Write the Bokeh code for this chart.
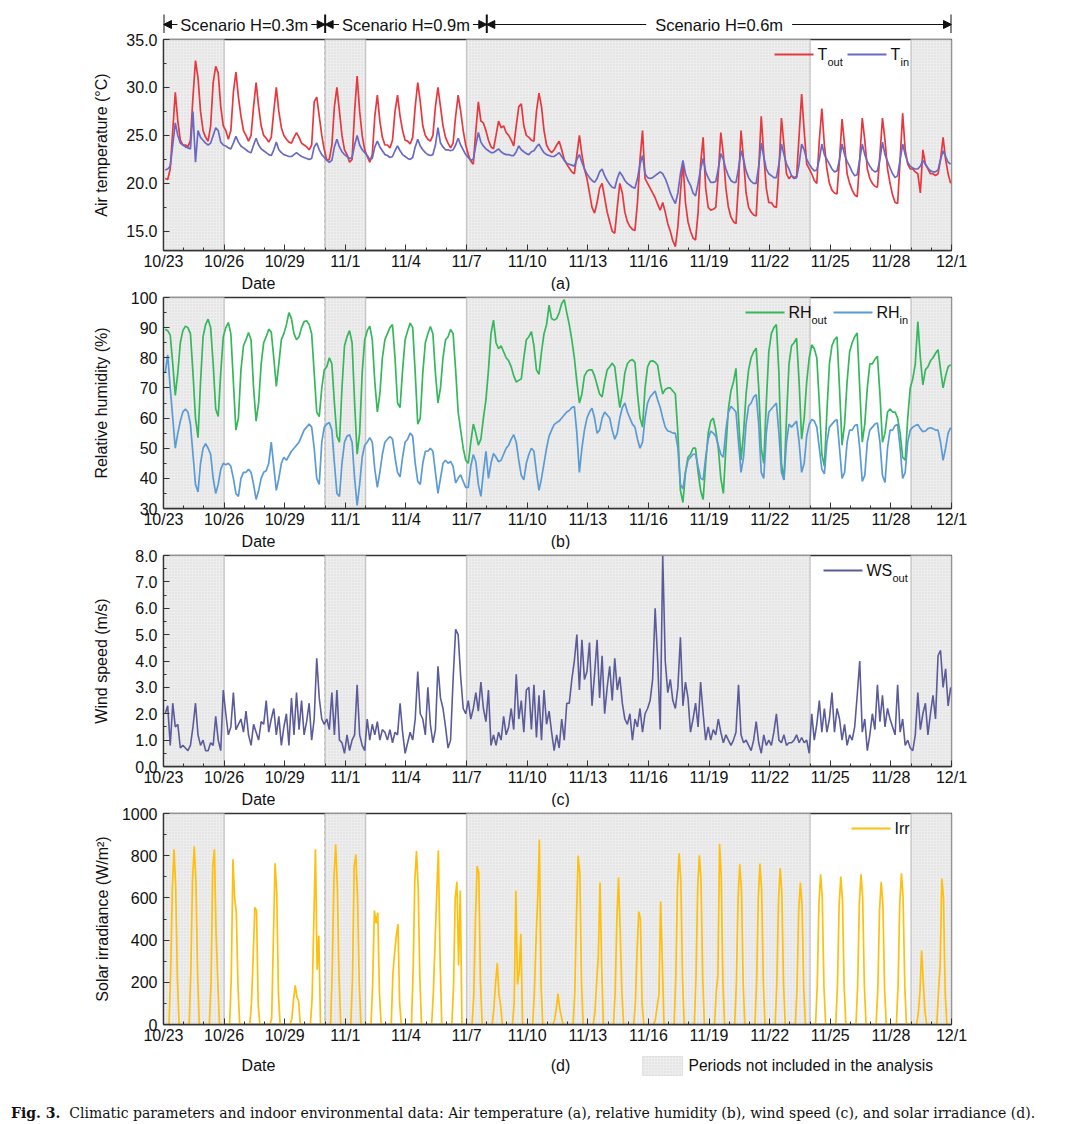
from bokeh.plotting import figure
from bokeh.layouts import column
from bokeh.models import (Range1d, FixedTicker, NumeralTickFormatter, Span, Label,
                          Arrow, NormalHead, BoxAnnotation, Div)
from bokeh.embed import file_html
from bokeh.resources import INLINE

# ---------------- data ----------------
HOURS = [2, 5, 8, 11, 14, 17, 20, 23]          # sample hours for T, RH, WS
IRR_HOURS = [6.5, 8.5, 10.5, 12.5, 14.5, 16.5, 18.5]  # sample hours for irradiance

TICK_LABELS = ["10/23", "10/26", "10/29", "11/1", "11/4", "11/7", "11/10",
               "11/13", "11/16", "11/19", "11/22", "11/25", "11/28", "12/1"]

EXCL_START = ["10/23", "10/31", "11/7", "11/29"]
EXCL_END = ["10/26", "11/2", "11/24", "12/1"]

SCEN_LABELS = ["Scenario H=0.3m", "Scenario H=0.9m", "Scenario H=0.6m"]
SCEN_START = ["10/23", "10/31", "11/8"]
SCEN_END = ["10/31", "11/8", "12/1"]

T_OUT = [
    [20.5, 20.4, 21.5, 25.5, 29.5, 26.5, 24.5, 24.0],
    [24.0, 23.8, 24.5, 29.0, 32.8, 31.0, 27.5, 25.5],
    [24.8, 24.4, 26.0, 30.5, 32.2, 31.5, 28.0, 26.0],
    [25.5, 24.6, 25.5, 29.5, 31.6, 29.0, 27.0, 25.5],
    [25.0, 24.4, 25.0, 28.0, 30.5, 28.0, 26.0, 25.0],
    [24.7, 24.3, 24.8, 27.5, 30.0, 27.5, 25.8, 25.0],
    [24.6, 24.3, 24.2, 24.8, 25.3, 24.8, 24.2, 24.0],
    [23.8, 23.5, 24.0, 28.5, 29.0, 27.0, 25.0, 23.5],
    [22.4, 22.5, 24.0, 28.0, 30.0, 27.5, 25.0, 23.5],
    [23.0, 22.2, 22.5, 27.5, 31.2, 27.5, 25.0, 23.5],
    [22.8, 22.2, 23.0, 27.0, 29.2, 26.5, 24.8, 24.0],
    [24.0, 23.7, 24.5, 27.5, 29.2, 27.0, 25.5, 24.5],
    [24.4, 24.1, 24.8, 28.0, 30.5, 28.5, 26.0, 25.0],
    [24.6, 24.4, 25.0, 28.0, 30.0, 28.0, 26.0, 24.8],
    [24.2, 23.7, 24.2, 27.0, 29.2, 27.5, 25.5, 24.0],
    [23.0, 22.3, 22.0, 25.5, 28.5, 26.5, 26.3, 25.5],
    [24.5, 23.8, 23.6, 25.0, 26.5, 25.8, 26.0, 25.3],
    [25.0, 24.5, 23.9, 26.0, 28.0, 28.3, 26.0, 25.0],
    [24.8, 24.5, 24.4, 27.5, 29.4, 28.0, 25.5, 24.0],
    [23.5, 23.2, 23.5, 24.0, 24.4, 23.5, 22.5, 22.0],
    [21.6, 21.2, 21.0, 23.0, 25.0, 23.0, 21.5, 20.5],
    [19.0, 17.5, 16.9, 18.0, 19.5, 20.0, 18.5, 17.0],
    [16.0, 15.0, 14.8, 17.5, 20.0, 19.0, 17.0, 16.0],
    [15.5, 15.2, 15.1, 18.0, 22.5, 25.5, 20.5, 20.0],
    [19.5, 19.0, 18.5, 17.8, 17.2, 18.0, 17.0, 15.8],
    [15.0, 14.0, 13.4, 15.5, 19.0, 22.2, 18.0, 16.0],
    [15.0, 14.3, 14.1, 17.0, 22.0, 24.8, 19.5, 17.5],
    [17.2, 17.3, 17.5, 21.0, 25.3, 23.0, 19.5, 17.5],
    [16.5, 16.0, 15.8, 20.0, 25.5, 22.5, 19.0, 17.5],
    [17.0, 16.7, 16.6, 21.5, 27.0, 23.0, 19.5, 18.0],
    [18.0, 17.6, 17.5, 21.5, 26.8, 24.0, 21.0, 20.5],
    [20.8, 20.6, 20.7, 25.0, 29.3, 25.5, 22.0, 21.5],
    [21.0, 20.3, 20.0, 24.5, 27.8, 24.0, 21.5, 20.0],
    [19.3, 19.0, 18.9, 22.5, 26.7, 24.0, 21.0, 20.0],
    [19.3, 18.8, 18.6, 22.5, 26.8, 24.5, 21.5, 20.5],
    [20.0, 19.7, 19.6, 23.0, 26.8, 24.5, 21.5, 20.0],
    [18.8, 18.0, 17.9, 22.5, 27.3, 23.5, 22.0, 21.5],
    [21.5, 21.2, 21.0, 19.0, 23.5, 22.0, 21.5, 21.0],
    [21.0, 20.8, 21.0, 22.5, 24.8, 22.5, 21.0, 20.0],
]

T_IN = [
    [21.4, 21.5, 21.8, 24.0, 26.3, 25.0, 24.2, 24.0],
    [23.8, 23.7, 23.6, 27.5, 22.2, 25.5, 24.8, 24.5],
    [24.2, 24.0, 24.2, 25.0, 25.8, 25.5, 24.3, 24.0],
    [23.9, 23.7, 23.6, 24.2, 24.9, 24.3, 23.9, 23.7],
    [23.5, 23.3, 23.2, 24.0, 24.7, 24.0, 23.6, 23.4],
    [23.2, 23.0, 22.9, 23.5, 24.3, 23.5, 23.2, 23.0],
    [22.9, 22.8, 22.8, 23.0, 23.2, 23.0, 22.8, 22.7],
    [22.6, 22.5, 22.6, 23.8, 24.2, 23.5, 23.0, 22.7],
    [22.4, 22.2, 22.4, 23.8, 24.6, 23.8, 23.3, 23.0],
    [22.8, 22.6, 22.7, 24.0, 25.0, 24.0, 23.5, 23.2],
    [22.9, 22.5, 22.6, 23.8, 24.4, 23.8, 23.4, 23.0],
    [22.9, 22.7, 22.8, 23.4, 23.9, 23.4, 23.0, 22.8],
    [22.6, 22.5, 22.7, 23.8, 24.6, 23.9, 23.5, 23.2],
    [23.0, 22.9, 23.0, 24.0, 25.8, 24.2, 23.8, 23.5],
    [23.5, 23.4, 23.5, 24.0, 24.7, 24.0, 23.5, 23.0],
    [22.7, 22.4, 22.5, 24.0, 25.3, 24.3, 23.9, 23.6],
    [23.4, 23.2, 23.2, 23.4, 23.6, 23.3, 23.1, 23.0],
    [23.0, 22.9, 22.9, 23.3, 23.9, 23.5, 23.3, 23.1],
    [23.0, 23.3, 23.4, 23.8, 24.1, 23.6, 23.2, 23.0],
    [22.9, 22.8, 22.8, 23.0, 23.2, 22.8, 22.4, 22.1],
    [22.0, 21.9, 21.8, 22.5, 23.0, 22.2, 21.5, 21.0],
    [20.6, 20.3, 20.1, 20.5, 21.2, 21.5, 20.8, 20.3],
    [19.9, 19.6, 19.5, 20.5, 21.2, 20.8, 20.3, 20.0],
    [19.8, 19.6, 19.5, 20.5, 22.0, 22.9, 21.0, 20.6],
    [20.5, 20.6, 20.8, 21.0, 21.2, 21.0, 20.5, 19.8],
    [19.0, 18.4, 17.9, 19.0, 21.0, 22.4, 21.0, 20.3],
    [19.8, 19.0, 18.7, 20.0, 21.5, 22.6, 21.2, 20.6],
    [20.1, 20.1, 20.2, 21.5, 23.1, 22.5, 21.5, 20.8],
    [20.3, 20.1, 20.1, 21.5, 23.4, 22.5, 21.3, 20.6],
    [20.2, 20.0, 20.0, 21.8, 24.2, 22.8, 21.5, 21.0],
    [20.8, 20.6, 20.6, 22.0, 24.1, 23.0, 22.0, 21.5],
    [20.8, 20.5, 20.6, 22.0, 24.1, 23.5, 22.5, 22.0],
    [21.6, 21.3, 21.4, 22.5, 24.1, 23.0, 22.5, 22.0],
    [21.5, 21.2, 21.3, 22.5, 24.1, 23.0, 22.3, 21.8],
    [21.2, 20.8, 20.9, 22.5, 24.1, 23.0, 22.3, 21.8],
    [21.4, 21.2, 21.3, 22.5, 24.3, 23.0, 22.3, 21.6],
    [21.0, 20.6, 20.8, 22.5, 24.1, 23.0, 22.2, 21.8],
    [21.6, 21.5, 21.5, 21.8, 22.4, 22.0, 21.6, 21.3],
    [21.2, 21.2, 21.4, 22.5, 23.4, 22.8, 22.2, 22.0],
]

RH_OUT = [
    [89.5, 89.0, 87.5, 78.0, 67.5, 75.0, 85.0, 89.0],
    [90.5, 90.0, 88.0, 75.0, 60.0, 53.5, 72.0, 87.0],
    [91.0, 92.8, 90.0, 78.0, 63.0, 60.5, 75.0, 87.0],
    [90.0, 91.7, 88.0, 72.0, 56.0, 60.0, 76.0, 84.0],
    [86.0, 88.4, 86.0, 70.0, 59.0, 65.0, 78.0, 85.0],
    [87.0, 89.5, 88.5, 80.0, 70.5, 78.0, 86.0, 88.0],
    [91.0, 95.0, 93.0, 88.0, 86.0, 87.0, 90.0, 92.0],
    [92.3, 91.0, 88.0, 75.0, 62.0, 60.5, 70.0, 76.0],
    [77.0, 80.0, 78.0, 65.0, 54.0, 52.0, 70.0, 84.0],
    [87.0, 89.0, 85.0, 65.0, 48.0, 55.0, 75.0, 86.0],
    [89.0, 90.5, 86.0, 72.0, 62.0, 68.0, 80.0, 86.0],
    [88.0, 90.0, 91.0, 80.0, 65.0, 63.5, 76.0, 86.0],
    [89.0, 91.5, 90.0, 75.0, 58.0, 60.0, 75.0, 85.0],
    [88.0, 90.4, 88.0, 75.0, 65.0, 70.0, 80.0, 86.0],
    [87.0, 89.4, 88.0, 76.0, 62.0, 56.0, 50.0, 46.0],
    [45.0, 52.0, 58.0, 55.0, 51.0, 53.0, 60.0, 66.0],
    [76.0, 88.0, 92.5, 85.0, 83.0, 84.0, 82.0, 80.0],
    [79.0, 77.0, 74.0, 72.0, 72.5, 73.0, 80.0, 86.0],
    [87.0, 88.7, 84.0, 76.0, 74.5, 82.0, 88.0, 91.0],
    [97.5, 93.0, 92.5, 93.0, 95.0, 98.0, 99.3, 95.0],
    [91.0, 86.0, 80.0, 72.0, 65.0, 68.0, 74.0, 75.5],
    [76.0, 76.0, 74.0, 71.0, 68.0, 67.0, 72.0, 76.0],
    [77.0, 78.2, 77.0, 70.0, 63.5, 68.0, 75.0, 78.0],
    [79.0, 79.4, 78.5, 68.0, 60.0, 57.0, 70.0, 77.0],
    [78.8, 79.0, 78.5, 77.5, 72.0, 68.0, 69.5, 70.0],
    [70.0, 69.0, 68.0, 55.0, 36.0, 32.0, 42.0, 47.0],
    [48.0, 50.0, 50.0, 42.0, 36.0, 33.0, 45.0, 55.0],
    [59.0, 60.0, 56.0, 50.0, 40.0, 35.0, 50.0, 63.0],
    [69.0, 72.0, 76.5, 60.0, 46.0, 55.0, 68.0, 76.0],
    [80.0, 82.0, 83.2, 70.0, 50.0, 45.0, 65.0, 82.0],
    [88.0, 90.0, 91.0, 75.0, 45.0, 39.5, 60.0, 78.0],
    [84.0, 85.0, 86.5, 72.0, 53.0, 60.0, 72.0, 80.0],
    [84.3, 83.0, 80.0, 65.0, 48.0, 44.0, 62.0, 78.0],
    [84.0, 86.0, 87.0, 70.0, 51.0, 58.0, 72.0, 82.0],
    [85.0, 87.0, 88.2, 70.0, 52.0, 58.0, 70.0, 78.0],
    [78.0, 79.5, 80.5, 68.0, 52.0, 55.0, 62.0, 63.0],
    [62.0, 62.0, 60.0, 55.0, 47.0, 46.0, 60.0, 70.0],
    [73.0, 78.0, 92.0, 80.0, 71.0, 76.0, 77.0, 79.0],
    [80.0, 81.5, 82.7, 76.0, 70.0, 74.0, 77.0, 77.7],
]

RH_IN = [
    [75.0, 81.0, 70.0, 60.0, 50.0, 55.0, 59.0, 62.0],
    [63.0, 62.0, 58.0, 48.0, 38.0, 35.5, 45.0, 50.0],
    [51.5, 50.0, 48.0, 40.0, 35.0, 38.0, 43.0, 45.0],
    [44.5, 45.0, 44.0, 40.0, 35.0, 34.0, 40.0, 42.0],
    [42.0, 43.0, 42.0, 38.0, 33.0, 36.0, 40.0, 42.0],
    [42.5, 45.0, 52.0, 44.0, 36.0, 40.0, 45.0, 47.0],
    [46.0, 47.5, 49.0, 50.0, 51.0, 52.0, 54.0, 56.0],
    [57.0, 58.0, 57.0, 50.0, 40.0, 38.0, 52.0, 57.0],
    [58.0, 58.5, 56.0, 45.0, 35.0, 34.0, 45.0, 52.0],
    [54.0, 54.5, 52.0, 40.0, 31.0, 38.0, 47.0, 51.0],
    [52.0, 53.5, 52.0, 43.0, 37.0, 42.0, 48.0, 52.0],
    [53.0, 53.9, 53.0, 47.0, 42.0, 40.5, 47.0, 52.0],
    [53.0, 55.0, 54.0, 45.0, 39.0, 38.0, 45.0, 49.0],
    [49.0, 50.0, 49.0, 42.0, 35.0, 40.0, 45.0, 46.0],
    [45.0, 45.6, 44.0, 38.5, 40.0, 41.2, 39.0, 37.0],
    [37.0, 44.0, 47.9, 45.5, 38.0, 34.0, 42.0, 49.0],
    [40.0, 45.0, 48.3, 47.0, 45.5, 46.0, 48.0, 50.0],
    [51.0, 53.0, 54.5, 52.0, 46.0, 41.0, 39.5, 45.0],
    [48.0, 50.0, 49.0, 42.0, 36.0, 40.0, 45.0, 50.0],
    [54.0, 56.0, 57.8, 58.5, 59.0, 60.0, 61.0, 62.0],
    [62.5, 63.5, 63.8, 55.0, 42.0, 50.0, 56.0, 60.0],
    [62.0, 63.3, 60.0, 55.0, 56.0, 60.0, 62.0, 61.0],
    [60.0, 56.0, 53.0, 55.0, 60.0, 63.5, 65.0, 62.0],
    [60.0, 58.0, 57.0, 53.0, 50.0, 52.0, 60.0, 65.0],
    [67.0, 68.0, 69.0, 66.0, 63.5, 60.0, 57.0, 55.7],
    [55.5, 55.0, 55.0, 50.0, 38.0, 36.5, 42.0, 46.0],
    [47.0, 48.0, 48.0, 44.0, 40.0, 39.5, 47.0, 53.0],
    [55.7, 55.0, 54.0, 51.0, 48.0, 47.0, 56.0, 62.0],
    [63.9, 63.0, 62.0, 52.0, 42.0, 47.0, 58.0, 64.0],
    [65.0, 67.0, 67.8, 58.0, 42.0, 40.0, 55.0, 62.0],
    [63.0, 64.0, 65.0, 55.0, 42.0, 39.5, 52.0, 58.0],
    [57.0, 58.0, 59.0, 52.0, 42.0, 45.0, 54.0, 58.0],
    [59.5, 59.0, 57.0, 50.0, 43.0, 41.5, 52.0, 57.0],
    [58.0, 59.0, 59.5, 50.0, 40.0, 42.0, 52.0, 56.0],
    [56.0, 57.5, 57.9, 50.0, 39.0, 41.0, 52.0, 56.0],
    [57.0, 58.0, 58.4, 52.0, 41.0, 38.6, 50.0, 56.0],
    [56.0, 57.5, 57.9, 50.0, 40.0, 42.0, 52.0, 56.0],
    [57.0, 57.5, 57.9, 56.5, 55.5, 55.7, 56.5, 56.8],
    [56.5, 56.0, 56.0, 52.0, 46.0, 50.0, 55.0, 56.8],
]

WS_OUT = [
    [2.0, 2.3, 0.8, 2.4, 1.5, 1.6, 0.7, 0.8],
    [0.7, 0.6, 0.8, 1.5, 2.4, 1.2, 0.8, 1.0],
    [0.6, 0.6, 0.9, 0.8, 1.9, 1.0, 0.6, 2.9],
    [2.0, 1.2, 1.5, 2.8, 1.4, 1.6, 1.8, 1.3],
    [2.1, 1.2, 0.8, 1.6, 1.3, 1.0, 1.7, 1.6],
    [2.5, 1.3, 1.8, 2.2, 1.2, 1.9, 0.8, 1.5],
    [2.0, 0.8, 2.6, 1.2, 2.8, 1.4, 2.5, 1.2],
    [1.7, 2.4, 1.0, 1.8, 4.1, 2.6, 1.8, 1.6],
    [1.8, 1.4, 2.8, 1.2, 2.9, 1.0, 0.9, 0.5],
    [1.2, 0.6, 1.0, 1.2, 3.1, 1.2, 0.8, 0.6],
    [1.8, 1.0, 1.6, 1.2, 1.7, 1.0, 1.4, 1.3],
    [1.0, 1.4, 0.9, 1.3, 1.2, 2.4, 1.3, 0.5],
    [0.9, 1.3, 1.0, 1.8, 3.6, 2.0, 1.8, 1.2],
    [3.0, 1.6, 0.9, 1.4, 3.8, 2.6, 2.2, 1.5],
    [0.7, 1.0, 3.3, 5.2, 5.0, 3.4, 2.2, 2.0],
    [2.5, 1.8, 2.2, 2.8, 2.1, 3.2, 2.2, 1.7],
    [2.9, 0.8, 1.2, 0.8, 1.3, 1.0, 1.9, 1.2],
    [1.5, 2.2, 1.4, 3.5, 1.8, 2.5, 1.3, 2.9],
    [3.0, 1.4, 3.1, 1.1, 2.7, 1.0, 2.9, 1.6],
    [2.1, 1.3, 0.6, 1.2, 0.7, 1.8, 1.0, 2.4],
    [2.4, 3.3, 4.0, 5.0, 2.9, 4.8, 3.3, 3.6],
    [4.7, 2.3, 3.5, 4.8, 2.6, 4.2, 2.0, 3.0],
    [3.8, 2.5, 4.1, 2.9, 3.4, 2.4, 1.8, 1.6],
    [2.0, 1.0, 1.8, 1.5, 2.2, 1.3, 2.0, 2.2],
    [2.5, 3.3, 6.0, 4.0, 1.4, 8.0, 4.0, 2.8],
    [3.3, 2.5, 2.2, 3.0, 4.9, 2.3, 3.2, 2.6],
    [1.3, 1.8, 2.4, 1.5, 3.2, 2.0, 1.0, 1.5],
    [1.0, 1.4, 1.2, 1.8, 1.3, 0.9, 1.2, 1.0],
    [0.8, 1.0, 1.3, 3.1, 1.2, 0.9, 1.0, 0.8],
    [0.6, 1.0, 1.7, 0.9, 0.5, 1.2, 0.8, 1.0],
    [0.8, 1.3, 2.0, 1.0, 0.9, 1.2, 0.8, 0.9],
    [0.9, 1.0, 1.2, 0.9, 1.1, 0.9, 1.0, 0.5],
    [2.0, 1.0, 1.6, 2.5, 1.3, 2.2, 1.3, 1.8],
    [2.8, 1.3, 2.2, 1.8, 1.0, 1.6, 0.8, 1.2],
    [1.0, 1.5, 2.7, 4.0, 1.3, 1.8, 0.6, 1.2],
    [2.0, 1.4, 3.1, 1.7, 2.7, 1.5, 2.2, 1.8],
    [1.5, 1.2, 3.1, 1.3, 1.8, 0.8, 1.0, 0.7],
    [0.6, 1.2, 2.8, 1.4, 2.0, 2.4, 1.2, 2.0],
    [2.7, 1.8, 4.2, 4.4, 3.0, 3.7, 2.3, 3.0],
]

IRR = [
    [0, 240, 650, 830, 650, 220, 0],
    [0, 260, 690, 845, 680, 240, 0],
    [0, 200, 750, 830, 430, 200, 0],
    [0, 220, 783, 600, 530, 180, 0],
    [0, 100, 320, 555, 540, 90, 0],
    [0, 30, 400, 764, 625, 150, 0],
    [0, 30, 120, 185, 130, 110, 0],
    [0, 120, 480, 830, 260, 420, 0],
    [0, 270, 700, 854, 650, 230, 0],
    [0, 220, 750, 806, 600, 200, 0],
    [0, 200, 540, 480, 530, 150, 0],
    [0, 240, 340, 420, 476, 100, 0],
    [0, 250, 680, 822, 650, 220, 0],
    [0, 150, 380, 615, 825, 320, 0],
    [0, 180, 600, 676, 280, 635, 0],
    [0, 130, 500, 750, 720, 200, 0],
    [0, 80, 200, 291, 140, 90, 0],
    [0, 100, 634, 190, 250, 430, 0],
    [0, 150, 400, 600, 877, 180, 0],
    [0, 20, 75, 146, 80, 40, 0],
    [0, 150, 500, 800, 720, 200, 0],
    [0, 60, 200, 330, 673, 270, 0],
    [0, 150, 500, 697, 437, 150, 0],
    [0, 100, 350, 535, 500, 100, 0],
    [0, 30, 90, 140, 583, 300, 0],
    [0, 220, 650, 811, 680, 220, 0],
    [0, 220, 650, 802, 680, 220, 0],
    [0, 150, 233, 857, 700, 200, 0],
    [0, 200, 600, 759, 640, 200, 0],
    [0, 200, 600, 763, 640, 200, 0],
    [0, 190, 590, 740, 620, 190, 0],
    [0, 170, 540, 673, 560, 170, 0],
    [0, 180, 570, 712, 600, 180, 0],
    [0, 180, 560, 701, 590, 180, 0],
    [0, 180, 570, 712, 600, 180, 0],
    [0, 170, 540, 676, 570, 170, 0],
    [0, 180, 570, 717, 600, 180, 0],
    [0, 50, 154, 351, 200, 60, 0],
    [0, 150, 280, 692, 602, 150, 0],
]

CAPTION_BOLD = "Fig. 3."
CAPTION = ("Climatic parameters and indoor environmental data: Air temperature (a), "
           "relative humidity (b), wind speed (c), and solar irradiance (d).")
SHADE_LABEL = "Periods not included in the analysis"


# ---------------- helpers ----------------
def day_of(md):
    m, d = map(int, md.split("/"))
    if m == 10:
        return d - 23
    if m == 11:
        return 8 + d
    return 38 + d


N_DAYS = len(T_OUT)
X_3H = [d + h / 24.0 for d in range(N_DAYS) for h in HOURS]
X_IRR = [d + h / 24.0 for d in range(N_DAYS) for h in IRR_HOURS]


def flat(rows):
    return [v for r in rows for v in r]


TICK_DAYS = [day_of(t) for t in TICK_LABELS]
EX_L = [day_of(s) for s in EXCL_START]
EX_R = [day_of(s) for s in EXCL_END]
SC_L = [day_of(s) for s in SCEN_START]
SC_R = [day_of(s) for s in SCEN_END]
CHANGE_DAYS = SC_L[1:]

FONT = "Liberation Sans"
TXT = "#111111"
W = 1072
LEFT = 163
FRAME_W = 788
RIGHT = W - LEFT - FRAME_W
FRAME_H = 212
C_TOUT, C_TIN = "#e8383f", "#6a6ac4"
C_RHOUT, C_RHIN = "#35b75c", "#5b9bd5"
C_WS, C_IRR = "#5b5b9a", "#ffbf0f"
SHADE = dict(fill_color="#eeeeee", hatch_pattern="dot", hatch_color="#d6d6d6",
             hatch_scale=3, hatch_weight=0.7)


def label(p, x, y, text, size="16px", align="left", font=FONT, style="normal",
          xu="screen", bg=None, pad=0):
    kw = {}
    if bg is not None:
        kw = dict(background_fill_color=bg, padding=pad)
    p.add_layout(Label(x=x, y=y, x_units=xu, y_units="screen", text=text,
                       text_align=align, text_baseline="middle", text_font=font,
                       text_font_size=size, text_font_style=style,
                       text_color=TXT, **kw))


def strip(height, x_end=FRAME_W):
    """A text row without axes; its frame lines up with the panels' frames."""
    p = figure(width=W, height=height, x_range=Range1d(0, x_end),
               y_range=Range1d(0, height), x_axis_location=None,
               y_axis_location=None, output_backend="svg",
               toolbar_location=None, min_border_left=LEFT,
               min_border_right=RIGHT, min_border_top=0, min_border_bottom=0)
    p.outline_line_color = None
    p.grid.visible = False
    return p


def make_panel(ymin, ymax, major, minor, fmt, ylabel, standoff):
    p = figure(width=W, height=6 + FRAME_H + 21, x_range=Range1d(0, N_DAYS),
               y_range=Range1d(ymin, ymax), output_backend="svg",
               toolbar_location=None, min_border_left=LEFT,
               min_border_right=RIGHT, min_border_top=6, min_border_bottom=21)
    p.grid.visible = False
    p.outline_line_color = "#333333"
    p.outline_line_width = 1.3

    p.quad(left=EX_L, right=EX_R, bottom=ymin, top=ymax,
           line_color="#c6c6c6", line_width=1.4, **SHADE)
    for dd in CHANGE_DAYS:
        p.add_layout(Span(location=dd, dimension="height", line_color="#555555",
                          line_dash="3 3", line_width=1, level="underlay"))

    xa = p.xaxis[0]
    xa.ticker = FixedTicker(ticks=TICK_DAYS, minor_ticks=list(range(N_DAYS + 1)))
    xa.major_label_overrides = {d: lab for d, lab in zip(TICK_DAYS, TICK_LABELS)}
    ya = p.yaxis[0]
    ya.ticker = FixedTicker(ticks=major, minor_ticks=minor)
    ya.formatter = NumeralTickFormatter(format=fmt)
    ya.axis_label = ylabel
    ya.axis_label_standoff = standoff
    for ax in (xa, ya):
        ax.axis_line_color = "#333333"
        ax.axis_line_width = 1.3
        ax.major_tick_in = 6
        ax.major_tick_out = 0
        ax.minor_tick_in = 3
        ax.minor_tick_out = 0
        ax.major_tick_line_color = "#333333"
        ax.minor_tick_line_color = "#333333"
        ax.major_label_text_font = FONT
        ax.major_label_text_font_size = "16px"
        ax.major_label_text_color = TXT
        ax.axis_label_text_font = FONT
        ax.axis_label_text_font_size = "16px"
        ax.axis_label_text_font_style = "normal"
        ax.axis_label_text_color = TXT
    xa.major_label_standoff = 2
    ya.major_label_standoff = 6
    return p


def legend_entry(p, x0, color, main, sub, y=196):
    p.add_layout(Arrow(x_start=x0, y_start=y, x_end=x0 + 39, y_end=y,
                       start_units="screen", end_units="screen", end=None,
                       line_color=color, line_width=2))
    label(p, x0 + 43, y, main[0])
    if sub:
        label(p, x0 + 43 + main[1], y - 7, sub, size="11px")


def date_strip(letter, height=19, y=8.5):
    s = strip(height)
    label(s, 95, y, "Date", align="center")
    label(s, 397, y, letter, align="center")
    return s


# ---------------- scenario header ----------------
HEAD_H = 33
head = figure(width=W, height=HEAD_H, x_range=Range1d(0, N_DAYS),
              y_range=Range1d(0, HEAD_H), x_axis_location=None,
              y_axis_location=None, output_backend="svg", toolbar_location=None,
              min_border_left=LEFT, min_border_right=RIGHT,
              min_border_top=0, min_border_bottom=0)
head.outline_line_color = None
head.grid.visible = False
for b in sorted(set(SC_L + SC_R)):
    head.add_layout(Arrow(x_start=b, x_end=b, y_start=0, y_end=19, end=None,
                          line_color=TXT, line_width=2))
for s, e in zip(SC_L, SC_R):
    head.add_layout(Arrow(x_start=s, x_end=e, y_start=9, y_end=9,
                          start=NormalHead(size=8, fill_color=TXT, line_color=TXT),
                          end=NormalHead(size=8, fill_color=TXT, line_color=TXT),
                          line_color=TXT, line_width=1))
for s, e, lab in zip(SC_L, SC_R, SCEN_LABELS):
    label(head, (s + e) / 2, 9, lab, size="16.5px", align="center", xu="data",
          bg="white", pad=(3 if e - s < 20 else 9))

# ---------------- panel (a) ----------------
pa = make_panel(13, 35, [15, 20, 25, 30, 35], [17.5, 22.5, 27.5, 32.5],
                "0.0", "Air temperature (°C)", 13)
pa.line(X_3H, flat(T_OUT), line_color=C_TOUT, line_width=1.7)
pa.line(X_3H, flat(T_IN), line_color=C_TIN, line_width=1.7)
legend_entry(pa, 611, C_TOUT, ("T", 10), "out")
legend_entry(pa, 684, C_TIN, ("T", 10), "in")

# ---------------- panel (b) ----------------
pb = make_panel(30, 100, list(range(30, 101, 10)), list(range(35, 100, 10)),
                "0", "Relative humidity (%)", 18)
pb.line(X_3H, flat(RH_OUT), line_color=C_RHOUT, line_width=1.7)
pb.line(X_3H, flat(RH_IN), line_color=C_RHIN, line_width=1.7)
legend_entry(pb, 582, C_RHOUT, ("RH", 23), "out")
legend_entry(pb, 670, C_RHIN, ("RH", 23), "in")

# ---------------- panel (c) ----------------
pc = make_panel(0, 8, list(range(0, 9)), [i + 0.5 for i in range(8)],
                "0.0", "Wind speed (m/s)", 22)
pc.line(X_3H, flat(WS_OUT), line_color=C_WS, line_width=1.6)
legend_entry(pc, 660, C_WS, ("WS", 26), "out")

# ---------------- panel (d) ----------------
pdd = make_panel(0, 1000, list(range(0, 1001, 200)), list(range(100, 1000, 200)),
                 "0", "Solar irradiance (W/m²)", 8)
pdd.line(X_IRR, flat(IRR), line_color=C_IRR, line_width=1.7)
legend_entry(pdd, 688, C_IRR, ("Irr", 0), None)

# ---------------- rows below the panels ----------------
sa, sb, sc = date_strip("(a)"), date_strip("(b)"), date_strip("(c)")

BOT_H = 40
sd = strip(BOT_H)
label(sd, 95, 21, "Date", align="center")
label(sd, 397, 21, "(d)", align="center")
sd.add_layout(BoxAnnotation(left=479, right=519, bottom=11, top=30,
                            left_units="screen", right_units="screen",
                            bottom_units="screen", top_units="screen",
                            line_color="#bdbdbd", line_width=1.2, fill_alpha=1,
                            **SHADE))
label(sd, 525, 21, SHADE_LABEL, size="15.6px")

caption = Div(
    text=f"<b>{CAPTION_BOLD}</b>&nbsp;&nbsp;{CAPTION}",
    width=W, height=36,
    styles={"font-family": "'DejaVu Serif', serif", "font-size": "14px",
            "color": TXT, "white-space": "nowrap", "line-height": "16px",
            "padding-left": "6px", "padding-top": "14px",
            "box-sizing": "border-box"},
)

layout = column(head, pa, sa, pb, sb, pc, sc, pdd, sd, caption, spacing=0)
open("out.html", "w").write(file_html(layout, INLINE))
